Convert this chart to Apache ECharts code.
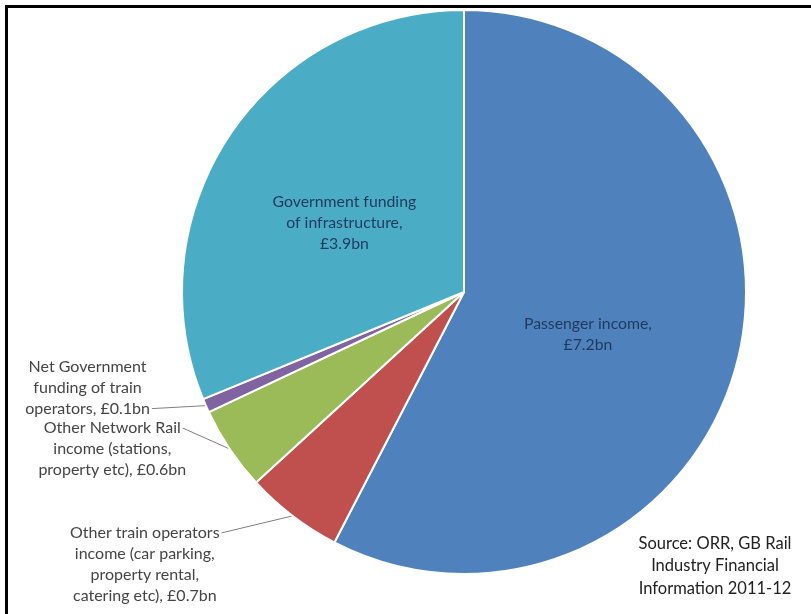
<!DOCTYPE html>
<html>
<head>
<meta charset="utf-8">
<script src="https://cdn.jsdelivr.net/npm/echarts@6/dist/echarts.min.js"></script>
<style>
  html, body { margin: 0; padding: 0; background: #fff; }
  #frame {
    position: absolute; left: 5px; top: 5px; right: 0; bottom: 0;
    border-left: 3px solid #000; border-top: 3px solid #000;
  }
  #chart { position: absolute; left: 0; top: 0; width: 811px; height: 614px; }
</style>
</head>
<body>
<div id="frame"></div>
<div id="chart"></div>
<script>
// GB rail industry income, 2011-12 (£bn), clockwise from 12 o'clock
const categories = [
  'Passenger income,',
  'Other train operators\nincome (car parking,\nproperty rental,\ncatering etc),',
  'Other Network Rail\nincome (stations,\nproperty etc),',
  'Net Government\nfunding of train\noperators,',
  'Government funding\nof infrastructure,'
];
const values = [7.2, 0.7, 0.6, 0.1, 3.9];
const colors = ['#4F81BD', '#C0504D', '#9BBB59', '#8064A2', '#4BACC6'];
const sourceLines = ['Source: ORR, GB Rail', 'Industry Financial', 'Information 2011-12'];

// layout
const CX = 464, CY = 292, R = 282;
const FONT = 'Lato, "Open Sans", sans-serif';
const OUT_SIZE = 16, IN_SIZE = 15.8, LINE_H = 21;
const insideSet = new Set([0, 4]);
// inside label nudges
const insideNudge = { 0: [-16, 8], 4: [0, 11] };
// outside leader lines: end offset from slice edge and which text line it attaches to
const leader = {
  1: { d: [-71, 17], attach: 'first' },
  2: { d: [-47, -21], attach: 'first' },
  3: { d: [-54, 3], attach: 'last' }
};

const total = values.reduce((a, b) => a + b, 0);
const midAngle = [];
{
  let cum = 0;
  values.forEach(v => {
    const frac = (cum + v / 2) / total;
    midAngle.push(Math.PI / 2 - frac * 2 * Math.PI);
    cum += v;
  });
}

const measureCtx = document.createElement('canvas').getContext('2d');
measureCtx.font = OUT_SIZE + 'px ' + FONT;

function labelText(i) {
  const joiner = insideSet.has(i) ? '\n' : ' ';
  return categories[i] + joiner + '£' + values[i].toFixed(1) + 'bn';
}

const data = categories.map((name, i) => ({
  name: name,
  value: values[i],
  itemStyle: { color: colors[i] },
  label: insideSet.has(i)
    ? { position: 'inside', color: '#1f3a5c', fontSize: IN_SIZE }
    : { position: 'outside', color: '#454545', fontSize: OUT_SIZE },
  labelLine: { show: !insideSet.has(i) }
}));

const chart = echarts.init(document.getElementById('chart'), null, { renderer: 'canvas' });
chart.setOption({
  animation: false,
  backgroundColor: 'transparent',
  graphic: [{
    type: 'text',
    x: 715,
    y: 532,
    style: {
      text: sourceLines.join('\n'),
      font: '16.5px Lato, "Open Sans", sans-serif',
      lineHeight: 22.5,
      fill: '#222',
      align: 'center'
    }
  }],
  series: [{
    type: 'pie',
    center: [CX, CY],
    radius: [0, R],
    startAngle: 90,
    clockwise: true,
    data: data,
    itemStyle: { borderColor: '#fff', borderWidth: 2 },
    label: {
      formatter: p => labelText(p.dataIndex),
      fontFamily: FONT,
      lineHeight: LINE_H,
      align: 'center'
    },
    labelLine: {
      length: 20, length2: 10,
      lineStyle: { color: '#7f7f7f', width: 1 }
    },
    labelLayout: function (params) {
      const i = params.dataIndex;
      if (insideSet.has(i)) {
        const n = insideNudge[i];
        return { dx: n[0], dy: n[1] };
      }
      const cfg = leader[i];
      const a = midAngle[i];
      const p0 = [CX + R * Math.cos(a), CY - R * Math.sin(a)];
      const end = [p0[0] + cfg.d[0], p0[1] + cfg.d[1]];
      const lines = labelText(i).split('\n');
      const attached = cfg.attach === 'first' ? lines[0] : lines[lines.length - 1];
      const w = measureCtx.measureText(attached).width;
      const out = {
        x: end[0] - 2 - w / 2,
        align: 'center',
        labelLinePoints: [p0, end, end]
      };
      if (cfg.attach === 'first') {
        out.y = end[1] - LINE_H / 2;
        out.verticalAlign = 'top';
      } else {
        out.y = end[1] + LINE_H / 2;
        out.verticalAlign = 'bottom';
      }
      return out;
    }
  }]
});
</script>
</body>
</html>
